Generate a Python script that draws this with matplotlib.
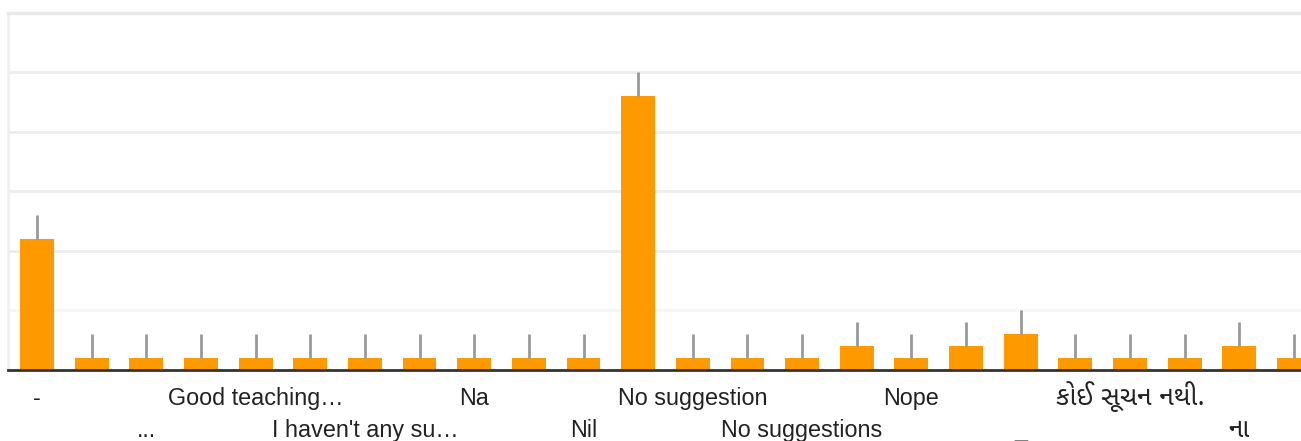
import matplotlib
matplotlib.use("Agg")
import matplotlib.pyplot as plt
from matplotlib import font_manager
from matplotlib.ft2font import FT2Font

# Data
labels = ["-", "", "...", "", "Good teaching…", "", "I haven't any su…", "",
          "Na", "", "Nil", "", "No suggestion", "", "No suggestions", "",
          "Nope", "", "_", "", "કોઈ સૂચન નથી.", "", "ના", ""]
counts = [11, 1, 1, 1, 1, 1, 1, 1, 1, 1, 1, 23,
          1, 1, 1, 2, 1, 2, 3, 1, 1, 1, 2, 1]
error = [2] * len(counts)

BAR_COLOR = "#ff9900"


def gujarati_font():
    # pick a regular-weight font with Gujarati glyphs, Noto first
    found = []
    for path in font_manager.findSystemFonts():
        if "unifont" in path.lower():
            continue
        try:
            if ord("ક") in FT2Font(path).get_charmap():
                found.append(path)
        except Exception:
            continue
    tests = [
        lambda p: "NotoSansGujarati" in p and "Regular" in p,
        lambda p: "NotoSansGujarati" in p and "[" in p,
        lambda p: "MuktaVaani-Regular" in p,
        lambda p: "HindVadodara-Regular" in p,
        lambda p: "Regular" in p,
        lambda p: "Bold" not in p and "Light" not in p and "Thin" not in p,
    ]
    for test in tests:
        for p in sorted(found):
            if test(p):
                return p
    return found[0] if found else None


plt.rcParams["font.family"] = ["Liberation Sans", "DejaVu Sans"]
guj_path = gujarati_font()

W, H = 1301, 441
fig = plt.figure(figsize=(W / 100, H / 100), dpi=100)

step = 54.65
x0 = 37.0
left_px, base_px, top_px = 8.0, 369.7, 12.5
ax = fig.add_axes([left_px / W, (H - base_px) / H,
                   (W - left_px) / W, (base_px - top_px) / H])

x = list(range(len(counts)))
ax.bar(x, counts, width=0.62, color=BAR_COLOR, zorder=3)
ax.errorbar(x, counts, yerr=[[0] * len(error), error], fmt="none",
            ecolor="#999999", elinewidth=2, capsize=0, zorder=4)

ax.set_xlim(-(x0 - left_px) / step, (W - x0) / step)
ax.set_ylim(0, 30)

# gridlines
for yv in [10, 15, 20, 25]:
    ax.axhline(yv, color="#ececec", lw=2, zorder=1)
ax.axhline(5, color="#f6f6f6", lw=2, zorder=1)

ax.spines["right"].set_visible(False)
ax.spines["top"].set_color("#e8e8e8")
ax.spines["top"].set_linewidth(2.5)
ax.spines["left"].set_color("#eeeeee")
ax.spines["left"].set_linewidth(1.8)
ax.spines["bottom"].set_color("#333333")
ax.spines["bottom"].set_linewidth(2)
ax.spines["bottom"].set_zorder(5)

ax.set_xticks([])
ax.set_yticks([])

ax_h = base_px - top_px
row_y = [-(405 - base_px) / ax_h, -(437 - base_px) / ax_h]
trans = ax.get_xaxis_transform()
for i, lab in enumerate(labels):
    if not lab:
        continue
    row = 0 if i % 4 == 0 else 1
    kw = dict(fontsize=16.8)
    if guj_path and any("\u0a80" <= c <= "\u0aff" for c in lab):
        kw = dict(fontproperties=font_manager.FontProperties(fname=guj_path,
                                                             size=19))
    ax.text(i, row_y[row], lab, transform=trans, ha="center", va="baseline",
            color="#222222", clip_on=False, **kw)

fig.savefig("out.png", dpi=100)
